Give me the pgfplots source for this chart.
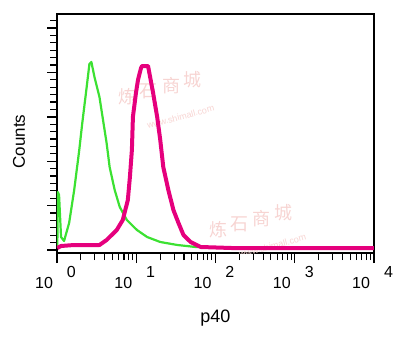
\documentclass[border=0pt]{standalone}
\usepackage{fontspec}
\setmainfont{Liberation Sans}
\newfontfamily\cjk{Noto Sans CJK SC}
\usepackage{pgfplots}
\usepackage{pgfplotstable}
\pgfplotsset{compat=1.18}
\definecolor{fgreen}{RGB}{60,225,50}
\definecolor{fmag}{RGB}{229,0,125}
\definecolor{wm}{RGB}{247,212,210}
\tikzset{wmk/.style={text=wm, font=\cjk\fontsize{18}{18}\selectfont, inner sep=0pt}}
\newcommand{\tl}[1]{\makebox[0pt][r]{10\hspace{4pt}}\makebox[0pt][l]{\hspace{10pt}\raisebox{11pt}{#1}}}

\pgfplotstableread{
lx y
0.004 5
0.010 61
0.026 58
0.051 16
0.089 12
0.153 30
0.217 63
0.281 103
0.319 130
0.370 163
0.409 189
0.434 191
0.473 176
0.536 156
0.575 136
0.626 110
0.664 86
0.728 63
0.792 46
0.881 33
1.009 23
1.137 16
1.303 11
1.520 8
1.750 6
2.200 5
}\greendata

\pgfplotstableread{
lx y
0.003 5
0.051 7
0.217 8
0.536 8
0.626 13
0.754 23
0.830 33
0.894 53
0.920 76
0.945 103
0.958 136
0.996 160
1.022 173
1.060 185
1.073 187
1.149 187
1.175 176
1.213 160
1.264 136
1.303 113
1.341 86
1.405 63
1.469 43
1.533 30
1.596 18
1.686 11
1.814 6
2.200 5
3.997 5
}\magdata

\begin{document}
\begin{tikzpicture}
\begin{axis}[
 scale only axis, width=317pt, height=239pt,
 xmode=log, xmin=1, xmax=10000, ymin=0, ymax=239,
 axis line style={line width=1.1pt},
 xtick={1,10,100,1000,10000},
 xticklabels={\tl{0},\tl{1},\tl{2},\tl{3},\tl{4}},
 xticklabel style={font=\fontsize{16}{16}\selectfont, anchor=north, inner sep=0pt, yshift=-3pt},
 ytick={3,47.4,91.8,136.2,180.6,225},
 minor ytick={3,10.4,...,238},
 yticklabels={},
 tick align=outside,
 xtick pos=bottom, ytick pos=left,
 major tick length=10pt, minor tick length=7pt,
 major tick style={black, line width=1.4pt},
 minor tick style={black, line width=1.1pt},
]
\node[wmk] at (axis description cs:0.221,0.653) {炼};
\node[wmk] at (axis description cs:0.290,0.678) {石};
\node[wmk] at (axis description cs:0.360,0.700) {商};
\node[wmk] at (axis description cs:0.429,0.724) {城};
\node[rotate=15, text=wm, inner sep=0pt, font=\fontsize{9}{9}\selectfont] at (axis description cs:0.390,0.570) {www.shimall.com};
\node[wmk] at (axis description cs:0.508,0.096) {炼};
\node[wmk] at (axis description cs:0.576,0.120) {石};
\node[wmk] at (axis description cs:0.644,0.144) {商};
\node[wmk] at (axis description cs:0.713,0.167) {城};
\node[rotate=15, text=wm, inner sep=0pt, font=\fontsize{9}{9}\selectfont] at (axis description cs:0.680,0.030) {www.shimall.com};
\addplot[fgreen, line width=2.2pt, line join=round] table[x expr={10^(\thisrow{lx})}, y=y] {\greendata};
\addplot[fmag, line width=4pt, line join=round] table[x expr={10^(\thisrow{lx})}, y=y] {\magdata};
\end{axis}
\node[anchor=base, font=\fontsize{18}{18}\selectfont] at ([yshift=-69pt]current axis.south) {p40};
\node[rotate=90, anchor=base, font=\fontsize{17}{17}\selectfont] at ([xshift=-32pt, yshift=-8pt]current axis.west) {Counts};
\pgfresetboundingbox
\path ([shift={(-57pt,-88pt)}]current axis.south west) rectangle ([shift={(26pt,14pt)}]current axis.north east);
\end{tikzpicture}
\end{document}
